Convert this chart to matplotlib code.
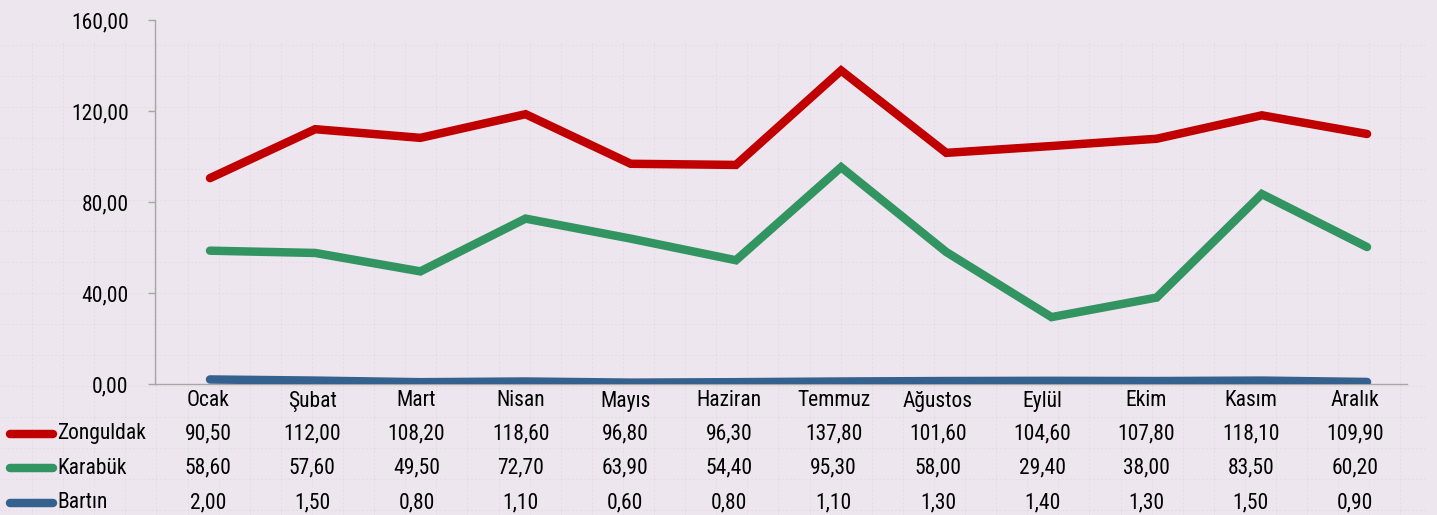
import matplotlib
matplotlib.use("Agg")
import matplotlib.pyplot as plt
import matplotlib.transforms as mtransforms
from matplotlib.lines import Line2D
import numpy as np

months = ["Ocak", "Şubat", "Mart", "Nisan", "Mayıs", "Haziran", "Temmuz",
          "Ağustos", "Eylül", "Ekim", "Kasım", "Aralık"]
zonguldak = [90.50, 112.00, 108.20, 118.60, 96.80, 96.30, 137.80, 101.60, 104.60, 107.80, 118.10, 109.90]
karabuk = [58.60, 57.60, 49.50, 72.70, 63.90, 54.40, 95.30, 58.00, 29.40, 38.00, 83.50, 60.20]
bartin = [2.00, 1.50, 0.80, 1.10, 0.60, 0.80, 1.10, 1.30, 1.40, 1.30, 1.50, 0.90]
series_names = ["Zonguldak", "Karabük", "Bartın"]
yticks = [0, 40, 80, 120, 160]

colors = ["#C00000", "#329461", "#35618F"]
bg = "#EEE6EF"
W, H = 1437, 515
fs = 15.5

plt.rcParams['font.family'] = ['Roboto Condensed', 'Archivo Narrow', 'Liberation Sans Narrow', 'DejaVu Sans']

fig = plt.figure(figsize=(W / 100, H / 100), dpi=100, facecolor=bg)

# faint page grid behind everything
for gx in np.arange(32, 1425, 31.1):
    fig.add_artist(Line2D([gx / W, gx / W], [0, 1 - 41 / H], color="#DCCADC",
                          lw=0.7, ls=(0, (2, 2)), alpha=0.4, zorder=0))
for gy in np.arange(45, H, 31):
    fig.add_artist(Line2D([0, 1425 / W], [1 - gy / H, 1 - gy / H], color="#DCCADC",
                          lw=0.7, ls=(0, (2, 2)), alpha=0.4, zorder=0))

ax = fig.add_axes([155 / W, 1 - 384 / H, (1407 - 155) / W, (384 - 20) / H])
ax.set_facecolor("none")

x = np.arange(len(months))
for vals, c in zip([zonguldak, karabuk, bartin], colors):
    ax.plot(x, vals, color=c, lw=6.1, solid_capstyle="round", solid_joinstyle="miter", zorder=3)

ax.set_xlim(-0.523, 11.38)
ax.set_ylim(0, 160)
ax.set_yticks(yticks)
ax.set_yticklabels([f"{v:.2f}".replace(".", ",") for v in yticks], fontsize=fs)
ax.set_xticks([])
ax.tick_params(axis="y", length=5, color="#A6A6A6", pad=14, width=1)
for s in ["top", "right"]:
    ax.spines[s].set_visible(False)
for s in ["left", "bottom"]:
    ax.spines[s].set_color("#A6A6A6")
    ax.spines[s].set_linewidth(1)

# data table under the chart
trans = mtransforms.blended_transform_factory(ax.transData, fig.transFigure)
col_x = -0.019 + 0.9914 * x
for cx, m in zip(col_x, months):
    ax.text(cx, 1 - 401 / H, m, transform=trans, ha="center", va="center", fontsize=fs)

row_y = [434, 468, 503]
for name, vals, c, ry in zip(series_names, [zonguldak, karabuk, bartin], colors, row_y):
    yf = 1 - ry / H
    fig.add_artist(Line2D([10 / W, 53 / W], [yf, yf], color=c, lw=6.1, solid_capstyle="round"))
    fig.text(57 / W, yf, name, ha="left", va="center", fontsize=fs)
    for cx, v in zip(col_x, vals):
        ax.text(cx, yf, f"{v:.2f}".replace(".", ","), transform=trans,
                ha="center", va="center", fontsize=fs)

fig.savefig("out.png", dpi=100, facecolor=bg)
